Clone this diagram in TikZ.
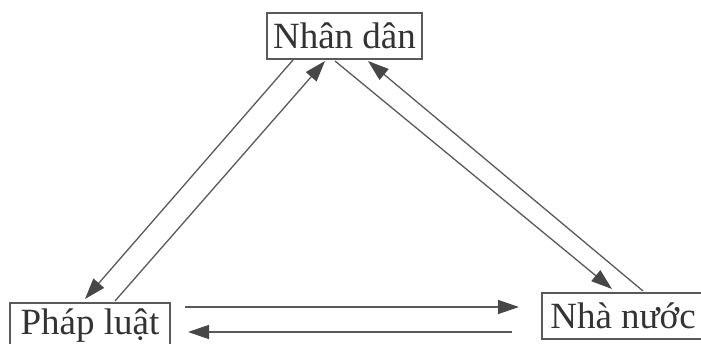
\documentclass[tikz,border=0pt]{standalone}
\usepackage{fontspec}
\setmainfont{Liberation Serif}
\usetikzlibrary{arrows.meta}
\begin{document}
\begin{tikzpicture}[x=1pt,y=-1pt,
  box/.style={draw=black!65,line width=1.4pt,inner sep=0pt,text=black!80,
    font=\fontsize{37}{40}\selectfont,minimum height=46pt},
  arr/.style={draw=black!65,line width=1.3pt,
    -{Triangle[length=21pt,width=14pt,fill=black!72,color=black!72]}}]
\useasboundingbox (0,0) rectangle (701,344);
\node[box,minimum width=155pt] (nd) at (344.5,36) {Nhân dân};
\node[box,minimum width=160pt] (pl) at (90,326) {Pháp luật};
\node[box,minimum width=162pt] (nn) at (623,316) {Nhà nước};
% end points
\coordinate (ndA) at (293,60);
\coordinate (ndB) at (325,61);
\coordinate (ndC) at (335,61);
\coordinate (ndD) at (368,61);
\coordinate (plA) at (85,299);
\coordinate (plB) at (115,301);
\coordinate (plC) at (185,307);
\coordinate (plD) at (188,332);
\coordinate (nnA) at (612,289);
\coordinate (nnB) at (643,291);
\coordinate (nnC) at (519,307);
\coordinate (nnD) at (512,332);
\draw[arr] (ndA) -- (plA);
\draw[arr] (plB) -- (ndB);
\draw[arr] (ndC) -- (nnA);
\draw[arr] (nnB) -- (ndD);
\draw[arr] (plC) -- (nnC);
\draw[arr] (nnD) -- (plD);
\end{tikzpicture}
\end{document}
